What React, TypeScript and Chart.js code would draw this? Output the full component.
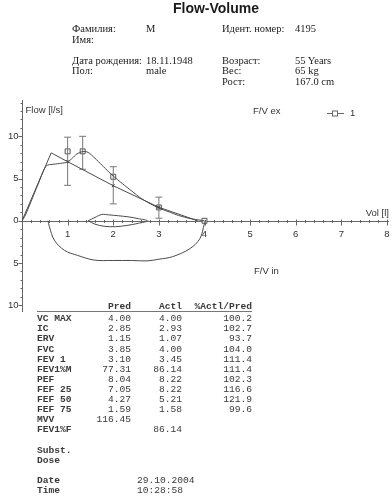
import React, { useEffect, useRef } from "react";
import { Chart, registerables } from "chart.js";

Chart.register(...registerables);

// ---------------- Data ----------------
const xTickValues = [1, 2, 3, 4, 5, 6, 7, 8];
const yTickValues = [10, 5, 0, -5, -10];

// predicted (reference) expiratory line
const predVol = [0, 0.64, 1.0, 2.0, 3.0, 3.85];
const predFlow = [0, 8.04, 7.0, 4.15, 1.6, 0];

// measured expiratory curve
const exVol = [0, 0.06, 0.2, 0.35, 0.53, 0.7, 0.85, 1.0, 1.1, 1.2, 1.33, 1.45, 1.6, 1.75, 1.9, 2.0, 2.2, 2.41, 2.6, 2.75, 3.0, 3.2, 3.43, 3.7, 3.9, 4.0];
const exFlow = [0, 0.5, 2.3, 4.3, 6.5, 6.7, 6.8, 6.95, 7.4, 7.9, 8.2, 8.1, 7.4, 6.6, 5.8, 5.3, 4.4, 3.5, 2.7, 2.2, 1.5, 1.1, 0.63, 0.25, 0.08, 0];

// measured inspiratory curve
const inVol = [4.03, 4.0, 3.9, 3.68, 3.3, 3.0, 2.74, 2.4, 2.0, 1.58, 1.22, 0.93, 0.71, 0.6, 0.57];
const inFlow = [0.1, -0.3, -2.1, -3.3, -4.25, -4.55, -4.75, -4.7, -4.7, -4.65, -4.1, -3.5, -2.3, -0.7, 0];

// tidal loop
const tidalVol = [1.45, 1.6, 1.75, 1.9, 2.1, 2.35, 2.55, 2.75, 2.55, 2.3, 2.05, 1.8, 1.6, 1.45];
const tidalFlow = [0, 0.4, 0.75, 0.7, 0.6, 0.45, 0.25, 0, -0.3, -0.55, -0.7, -0.65, -0.4, 0];

// measured markers (squares)
const markVol = [1.0, 1.33, 2.0, 3.0, 4.0];
const markFlow = [8.22, 8.22, 5.21, 1.58, 0];

// predicted ranges (error bars)
const errVol = [1.0, 1.33, 2.0, 3.0];
const errLow = [4.2, 6.1, 2.0, 0.3];
const errHigh = [9.9, 10.0, 6.4, 2.8];

// ---------------- Table ----------------
const rowLabels = ["VC MAX", "IC", "ERV", "FVC", "FEV 1", "FEV1%M", "PEF", "FEF 25", "FEF 50", "FEF 75", "MVV", "FEV1%F"];
const predVals = ["4.00", "2.85", "1.15", "3.85", "3.10", "77.31", "8.04", "7.05", "4.27", "1.59", "116.45", ""];
const actlVals = ["4.00", "2.93", "1.07", "4.00", "3.45", "86.14", "8.22", "8.22", "5.21", "1.58", "", "86.14"];
const pctVals = ["100.2", "102.7", "93.7", "104.0", "111.4", "111.4", "102.3", "116.6", "121.9", "99.6", "", ""];
const tableHeaders = ["Pred", "Actl", "%Actl/Pred"];

const infoLeftLabels = ["Фамилия:", "Имя:", "Дата рождения:", "Пол:"];
const infoLeftValues = ["M", "", "18.11.1948", "male"];
const infoRightLabels = ["Идент. номер:", "Возраст:", "Вес:", "Рост:"];
const infoRightValues = ["4195", "55 Years", "65 kg", "167.0 cm"];

const footLabels = ["Subst.", "Dose", "Date", "Time"];
const footValues = ["", "", "29.10.2004", "10:28:58"];

const SANS = '"Liberation Sans", Arial, sans-serif';
const SERIF = '"Liberation Serif", "Times New Roman", serif';
const MONO = '"Liberation Mono", "Courier New", monospace';

const pts = (xs: number[], ys: number[]) => xs.map((x, i) => ({ x, y: ys[i] }));

const decorPlugin = {
  id: "fvDecor",
  beforeDatasetsDraw(chart: any) {
    const { ctx } = chart;
    const xs = chart.scales.x;
    const ys = chart.scales.y;
    const x0 = Math.round(xs.getPixelForValue(0)) + 0.5;
    const y0 = Math.round(ys.getPixelForValue(0)) + 0.5;
    ctx.save();
    ctx.strokeStyle = "#666";
    ctx.lineWidth = 1;
    ctx.beginPath();
    ctx.moveTo(x0, ys.top);
    ctx.lineTo(x0, ys.bottom);
    ctx.moveTo(x0, y0);
    ctx.lineTo(xs.right + 2, y0);
    for (let v = Math.ceil(ys.min); v <= Math.floor(ys.max); v++) {
      const py = Math.round(ys.getPixelForValue(v)) + 0.5;
      const len = v % 5 === 0 ? 4 : 2;
      ctx.moveTo(x0 - len, py);
      ctx.lineTo(x0, py);
    }
    for (let i = 1; i <= 40; i++) {
      const px = Math.round(xs.getPixelForValue(i * 0.2)) + 0.5;
      const major = i % 5 === 0;
      ctx.moveTo(px, y0 - (major ? 2 : 1.5));
      ctx.lineTo(px, y0 + (major ? 4 : 1.5));
    }
    ctx.stroke();

    ctx.fillStyle = "#333";
    ctx.font = `9.5px ${SANS}`;
    ctx.textBaseline = "middle";
    ctx.textAlign = "right";
    yTickValues.forEach((v) => ctx.fillText(String(Math.abs(v)), x0 - 4, ys.getPixelForValue(v)));
    ctx.textAlign = "center";
    xTickValues.forEach((v) => ctx.fillText(String(v), xs.getPixelForValue(v), y0 + 13));

    ctx.textAlign = "left";
    ctx.fillText("Flow [l/s]", x0 + 3, 110);
    ctx.fillText("F/V ex", 253, 111);
    ctx.fillText("F/V in", 254, 271);
    ctx.textAlign = "right";
    ctx.fillText("Vol [l]", 389, 213);

    // legend
    ctx.beginPath();
    ctx.moveTo(327, 113.5);
    ctx.lineTo(344, 113.5);
    ctx.stroke();
    ctx.fillStyle = "#fff";
    ctx.fillRect(332.5, 111, 5, 5);
    ctx.strokeRect(332.5, 111, 5, 5);
    ctx.fillStyle = "#333";
    ctx.textAlign = "left";
    ctx.fillText("1", 350, 113);
    ctx.restore();
  },
};

function FlowVolumeChart() {
  const ref = useRef<HTMLCanvasElement | null>(null);
  useEffect(() => {
    if (!ref.current) return;
    const line = "#4a4a4a";
    const errSets = errVol.map((v, i) => ({
      data: [
        { x: v, y: errLow[i] },
        { x: v, y: errHigh[i] },
      ],
      showLine: true,
      borderColor: "#777",
      borderWidth: 1,
      pointStyle: "line",
      pointRadius: 3.5,
      pointBorderColor: "#777",
      pointBorderWidth: 1,
      tension: 0,
    }));
    const chart = new Chart(ref.current, {
      type: "scatter",
      data: {
        datasets: [
          {
            data: pts(predVol, predFlow),
            showLine: true,
            borderColor: line,
            borderWidth: 1,
            pointRadius: [0, 0, 2, 2, 2, 0],
            pointStyle: "crossRot",
            pointBorderColor: line,
            tension: 0,
          },
          {
            data: pts(exVol, exFlow),
            showLine: true,
            borderColor: line,
            borderWidth: 1,
            pointRadius: 0,
            tension: 0.25,
          },
          {
            data: pts(inVol, inFlow),
            showLine: true,
            borderColor: line,
            borderWidth: 1,
            pointRadius: 0,
            tension: 0.35,
          },
          {
            data: pts(tidalVol, tidalFlow),
            showLine: true,
            borderColor: line,
            borderWidth: 1,
            pointRadius: 0,
            tension: 0.35,
          },
          ...errSets,
          {
            data: pts(markVol, markFlow),
            showLine: false,
            pointStyle: "rect",
            pointRadius: 3.5,
            pointBackgroundColor: "rgba(255,255,255,0.7)",
            pointBorderColor: "#555",
            pointBorderWidth: 1,
          },
        ] as any,
      },
      options: {
        animation: false,
        responsive: false,
        maintainAspectRatio: false,
        layout: { padding: { left: 22, right: 2, top: 100, bottom: 190 } },
        plugins: { legend: { display: false }, tooltip: { enabled: false } },
        scales: {
          x: { type: "linear", min: 0, max: 8, display: false },
          y: { type: "linear", min: -10.8, max: 14.3, display: false },
        },
      },
      plugins: [decorPlugin],
    });
    return () => chart.destroy();
  }, []);
  return <canvas ref={ref} width={392} height={502} style={{ position: "absolute", left: 0, top: 0 }} />;
}

function T({ x, y, size, font, children, right, bold, color }: any) {
  return (
    <div
      style={{
        position: "absolute",
        left: x,
        top: y - size / 2,
        fontSize: size,
        lineHeight: `${size}px`,
        fontFamily: font,
        fontWeight: bold ? "bold" : "normal",
        whiteSpace: "pre",
        color: color || "#222",
        transform: right ? "translateX(-100%)" : undefined,
      }}
    >
      {children}
    </div>
  );
}

export default function App() {
  const leftY = [29, 40, 61, 71.7];
  const rightY = [29, 61, 71.7, 82.7];
  const rowY0 = 319;
  const rowStep = 10.1;
  const footY = [3, 4, 6, 7].map((k) => rowY0 + (11 + k - 1) * rowStep);
  const ts = 9.6;
  const tc = "#3a3a3a";
  return (
    <div style={{ position: "absolute", left: 0, top: 0, width: 392, height: 502, overflow: "hidden", background: "#fff" }}>
      <FlowVolumeChart />
      <T x={216} y={8} size={14} font={SANS} bold color="#1a1a1a">
        <span style={{ display: "inline-block", transform: "translateX(-50%)" }}>Flow-Volume</span>
      </T>
      {infoLeftLabels.map((s, i) => (
        <T key={"ll" + i} x={72} y={leftY[i]} size={10.5} font={SERIF}>{s}</T>
      ))}
      {infoLeftValues.map((s, i) => (
        <T key={"lv" + i} x={146} y={leftY[i]} size={10.5} font={SERIF}>{s}</T>
      ))}
      {infoRightLabels.map((s, i) => (
        <T key={"rl" + i} x={222} y={rightY[i]} size={10.5} font={SERIF}>{s}</T>
      ))}
      {infoRightValues.map((s, i) => (
        <T key={"rv" + i} x={295} y={rightY[i]} size={10.5} font={SERIF}>{s}</T>
      ))}

      <T x={131} y={307} size={ts} font={MONO} bold right color={tc}>{tableHeaders[0]}</T>
      <T x={182} y={307} size={ts} font={MONO} bold right color={tc}>{tableHeaders[1]}</T>
      <T x={252} y={307} size={ts} font={MONO} bold right color={tc}>{tableHeaders[2]}</T>
      <div style={{ position: "absolute", left: 37, top: 311, width: 215, height: 1, background: "#777" }} />
      {rowLabels.map((s, i) => (
        <T key={"r" + i} x={37} y={rowY0 + i * rowStep} size={ts} font={MONO} bold color={tc}>{s}</T>
      ))}
      {predVals.map((s, i) => (
        <T key={"p" + i} x={131} y={rowY0 + i * rowStep} size={ts} font={MONO} right color={tc}>{s}</T>
      ))}
      {actlVals.map((s, i) => (
        <T key={"a" + i} x={182} y={rowY0 + i * rowStep} size={ts} font={MONO} right color={tc}>{s}</T>
      ))}
      {pctVals.map((s, i) => (
        <T key={"c" + i} x={252} y={rowY0 + i * rowStep} size={ts} font={MONO} right color={tc}>{s}</T>
      ))}
      {footLabels.map((s, i) => (
        <T key={"f" + i} x={37} y={footY[i]} size={ts} font={MONO} bold color={tc}>{s}</T>
      ))}
      {footValues.map((s, i) => (
        <T key={"fv" + i} x={137} y={footY[i]} size={ts} font={MONO} color={tc}>{s}</T>
      ))}
    </div>
  );
}
